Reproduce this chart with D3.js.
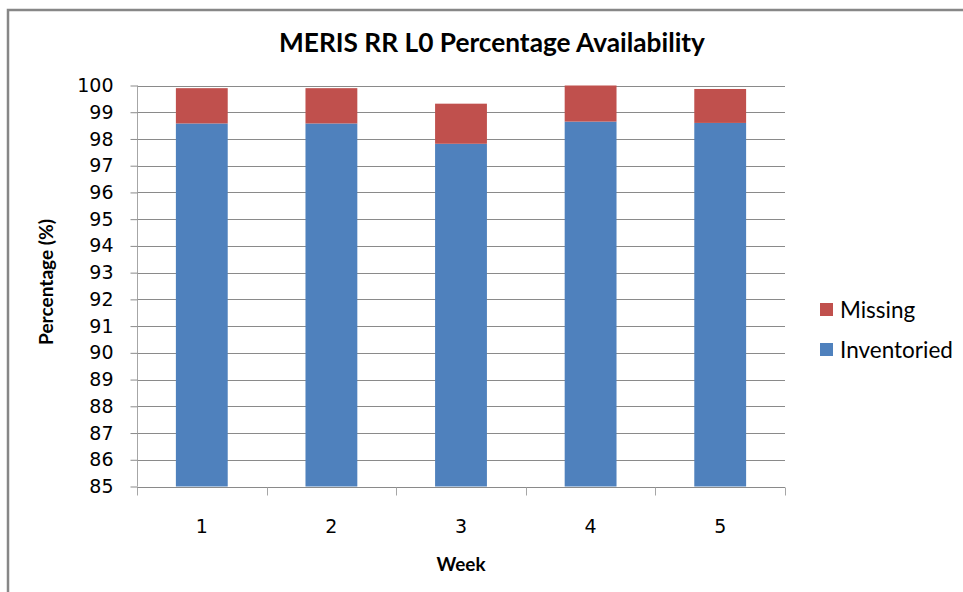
<!DOCTYPE html>
<html><head><meta charset="utf-8">
<script src="https://cdn.jsdelivr.net/npm/d3@7/dist/d3.min.js"></script>
<style>body{margin:0;background:#fff;}svg{display:block;}</style>
</head><body>
<script>
const weeks = ["1","2","3","4","5"];
const inventoried = [98.58, 98.58, 97.82, 98.65, 98.60];
const missing = [1.32, 1.32, 1.50, 1.35, 1.27];
const yTicks = [85,86,87,88,89,90,91,92,93,94,95,96,97,98,99,100];
const seriesNames = ["Missing","Inventoried"];
const colors = {Inventoried:"#4F81BD", Missing:"#C0504D"};

(function(){
const W=963,H=592;
const svg=d3.select("body").append("svg").attr("width",W).attr("height",H);
// fit a text element's font size to a target width
function fit(sel,target){
  const n=sel.node(); const fs=+sel.attr("font-size"); const w=n.getComputedTextLength();
  if(w>0) sel.attr("font-size",(fs*target/w).toFixed(2));
  return sel;
}
// outer chart border
svg.append("path").attr("d",`M8,600 L8,10 L980,10`).attr("fill","none").attr("stroke","#878787").attr("stroke-width",2.5);

const pL=137,pR=785,pT=85.5,pB=486.5;
const x=d3.scaleBand().domain(weeks).range([pL,pR]).paddingInner(0.6).paddingOuter(0.3);
const y=d3.scaleLinear().domain([85,100]).range([pB,pT]);

// gridlines
svg.append("g").selectAll("line").data(yTicks.filter(t=>t>85)).join("line")
 .attr("x1",pL).attr("x2",pR).attr("y1",d=>Math.round(y(d))+0.5).attr("y2",d=>Math.round(y(d))+0.5)
 .attr("stroke","#8a8a8a").attr("stroke-width",1);

const stackData=weeks.map((w,i)=>({week:w,Inventoried:inventoried[i],Missing:missing[i]}));
const stack=d3.stack().keys(["Inventoried","Missing"])(stackData);
svg.append("g").selectAll("g").data(stack).join("g").attr("fill",d=>colors[d.key])
 .selectAll("rect").data(d=>d).join("rect")
 .attr("x",d=>x(d.data.week)).attr("width",x.bandwidth())
 .attr("y",d=>y(Math.min(d[1],100))).attr("height",d=>Math.max(0,y(Math.max(d[0],85))-y(Math.min(d[1],100))));

// y axis
const yAxis=d3.axisLeft(y).tickValues(yTicks).tickSize(7).tickPadding(17).tickFormat(d3.format("d"));
const ya=svg.append("g").attr("transform",`translate(${pL+0.5},0)`).call(yAxis);
ya.select(".domain").attr("stroke","#a6a6a6").attr("d",`M0,${pT}V${pB}`);
ya.selectAll(".tick line").attr("stroke","#8a8a8a");
ya.selectAll("text").attr("font-family","DejaVu Sans").attr("font-size",19).attr("fill","#000");

// x axis
const xa=svg.append("g").attr("transform",`translate(0,${Math.round(pB)+0.5})`);
xa.append("line").attr("x1",pL).attr("x2",pR).attr("stroke","#8a8a8a");
const bounds=weeks.map(w=>x(w)-x.step()*x.paddingOuter()).concat([pR]);
xa.selectAll("line.t").data(bounds).join("line").attr("class","t")
 .attr("x1",d=>Math.round(d)+0.5).attr("x2",d=>Math.round(d)+0.5).attr("y1",0).attr("y2",8).attr("stroke","#a6a6a6");
xa.selectAll("text").data(weeks).join("text").attr("x",d=>x(d)+x.bandwidth()/2).attr("y",45)
 .attr("text-anchor","middle").attr("font-family","DejaVu Sans").attr("font-size",19).text(d=>d);

// title
fit(svg.append("text").attr("x",492).attr("y",52).attr("text-anchor","middle")
 .attr("font-family","Lato").attr("font-weight","bold").attr("font-size",22).text("MERIS RR L0 Percentage Availability"),426);
// axis titles
fit(svg.append("text").attr("transform","translate(53,282) rotate(-90)").attr("text-anchor","middle")
 .attr("font-family","Lato").attr("font-weight","bold").attr("font-size",15).text("Percentage (%)"),126);
fit(svg.append("text").attr("x",461).attr("y",571).attr("text-anchor","middle")
 .attr("font-family","Lato").attr("font-weight","bold").attr("font-size",16).text("Week"),49);

// legend
const lg=svg.append("g").selectAll("g").data(seriesNames).join("g").attr("transform",(d,i)=>`translate(820,${303+i*40})`);
lg.append("rect").attr("width",13).attr("height",13).attr("fill",d=>colors[d]);
lg.append("text").attr("x",20).attr("y",15).attr("font-family","Lato").attr("font-size",22.5).text(d=>d);
})();
</script>
</body></html>
